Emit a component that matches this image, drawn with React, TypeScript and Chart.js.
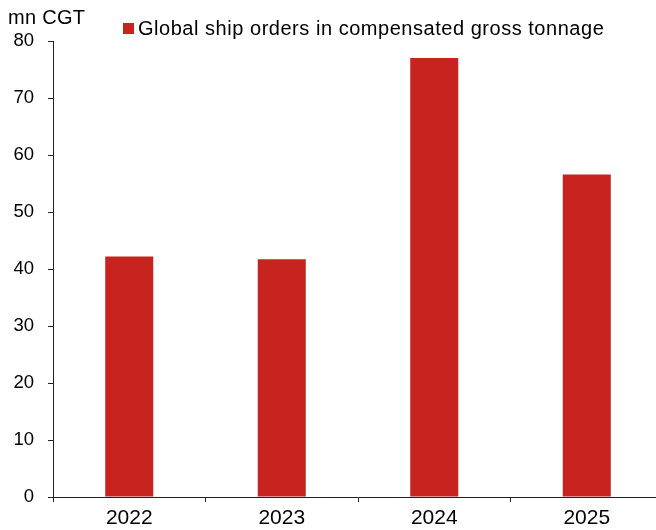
import React, { useEffect, useRef } from "react";
import { Chart, registerables } from "chart.js";

Chart.register(...registerables);

const categories = ["2022", "2023", "2024", "2025"];
const orders = [42.2, 41.7, 77.0, 56.6];
const seriesLabel = "Global ship orders in compensated gross tonnage";
const unitLabel = "mn CGT";
const yTicks = [0, 10, 20, 30, 40, 50, 60, 70, 80];

const BAR_COLOR = "#C8241F";
const AXIS_COLOR = "#222222";
const FONT = '"Liberation Sans", Arial, Helvetica, sans-serif';

const overlayPlugin = {
  id: "overlayText",
  afterDraw(chart: any) {
    const ctx = chart.ctx;
    ctx.save();
    ctx.textBaseline = "alphabetic";
    ctx.textAlign = "left";
    ctx.fillStyle = "#000";
    ctx.font = `20px ${FONT}`;
    (ctx as any).letterSpacing = "0.3px";
    ctx.fillText(unitLabel, 8, 24);
    ctx.fillStyle = BAR_COLOR;
    ctx.fillRect(123, 23, 11, 11);
    ctx.fillStyle = "#000";
    (ctx as any).letterSpacing = "0.53px";
    ctx.fillText(chart.data.datasets[0].label, 138, 35);
    ctx.restore();
  },
};

export default function App() {
  const canvasRef = useRef<HTMLCanvasElement | null>(null);

  useEffect(() => {
    const canvas = canvasRef.current;
    if (!canvas) return;
    const chart = new Chart(canvas, {
      type: "bar",
      data: {
        labels: categories,
        datasets: [
          {
            label: seriesLabel,
            data: orders,
            backgroundColor: BAR_COLOR,
            borderWidth: 0,
            barPercentage: 0.315,
            categoryPercentage: 1,
          },
        ],
      },
      options: {
        responsive: false,
        animation: false,
        devicePixelRatio: 1,
        layout: { padding: { top: 41, right: 1, left: 0, bottom: 0 } },
        plugins: {
          legend: { display: false },
          tooltip: { enabled: false },
        },
        scales: {
          x: {
            offset: true,
            grid: {
              offset: true,
              drawOnChartArea: false,
              drawTicks: true,
              tickLength: 5,
              tickColor: AXIS_COLOR,
              color: AXIS_COLOR,
            },
            border: { display: true, color: AXIS_COLOR, width: 1 },
            ticks: {
              color: "#000",
              font: { family: FONT, size: 21 },
              padding: 4,
              maxRotation: 0,
            },
            afterFit(scale: any) {
              scale.height = 33;
            },
          },
          y: {
            min: 0,
            max: 80,
            afterBuildTicks(scale: any) {
              scale.ticks = yTicks.map((v) => ({ value: v }));
            },
            grid: {
              drawOnChartArea: false,
              drawTicks: true,
              tickLength: 5,
              tickColor: AXIS_COLOR,
              color: AXIS_COLOR,
            },
            border: { display: true, color: AXIS_COLOR, width: 1 },
            ticks: {
              color: "#000",
              font: { family: FONT, size: 18.5 },
              padding: 14,
            },
            afterFit(scale: any) {
              scale.width = 53;
            },
          },
        },
      },
      plugins: [overlayPlugin],
    });
    return () => chart.destroy();
  }, []);

  return (
    <div
      style={{
        position: "fixed",
        left: 0,
        top: 0,
        width: 656,
        height: 530,
        overflow: "hidden",
        background: "#fff",
      }}
    >
      <canvas
        ref={canvasRef}
        width={664}
        height={530}
        style={{ width: 664, height: 530, display: "block" }}
      />
    </div>
  );
}
